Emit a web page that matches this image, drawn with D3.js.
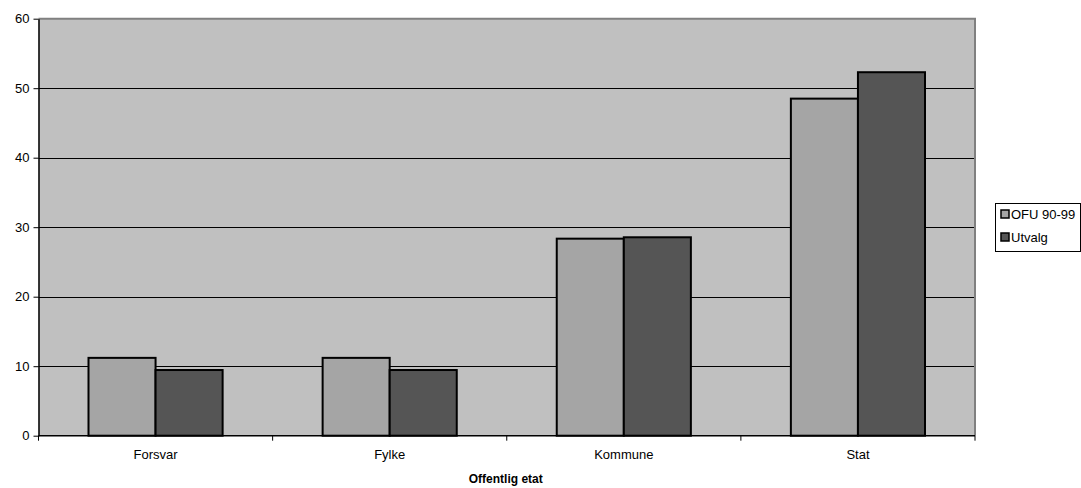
<!DOCTYPE html>
<html><head><meta charset="utf-8">
<script src="https://cdn.jsdelivr.net/npm/d3@7"></script>
<style>body{margin:0;background:#fff;} svg{display:block;font-family:"Liberation Sans",Arial,sans-serif;}</style>
</head><body>
<svg id="c" width="1081" height="488"></svg>
<script>
const categories = ["Forsvar","Fylke","Kommune","Stat"];
const seriesNames = ["OFU 90-99","Utvalg"];
const ofu = [11.2, 11.2, 28.35, 48.5];
const utvalg = [9.45, 9.45, 28.55, 52.3];
const yTicks = [0,10,20,30,40,50,60];
const colors = ["#a5a5a5","#555555"];

const svg = d3.select("#c");
const L=38.5, R=975, T=18.7, B=435.7;
const x = d3.scaleBand().domain(categories).range([L,R]).paddingInner(0).paddingOuter(0);
const y = d3.scaleLinear().domain([0,60]).range([B,T]);
const barW = (x.bandwidth()-100)/2;

svg.append("rect").attr("x",L).attr("y",T).attr("width",R-L).attr("height",B-T).attr("fill","#c0c0c0");
svg.append("g").selectAll("line").data(yTicks.filter(d=>d>0&&d<60)).join("line")
  .attr("x1",L).attr("x2",R).attr("y1",d=>Math.round(y(d))+0.5).attr("y2",d=>Math.round(y(d))+0.5)
  .attr("stroke","#000").attr("stroke-width",1);
svg.append("path").attr("d",`M${L},${T} H${R} V${B}`).attr("fill","none").attr("stroke","#808080").attr("stroke-width",2);

const series=[ofu,utvalg];
series.forEach((vals,si)=>{
  svg.append("g").selectAll("rect").data(categories).join("rect")
    .attr("x",(d,i)=>x(d)+50+si*barW)
    .attr("y",(d,i)=>y(vals[i]))
    .attr("width",barW)
    .attr("height",(d,i)=>B-y(vals[i]))
    .attr("fill",colors[si]).attr("stroke","#000").attr("stroke-width",2);
});

const ya = svg.append("g").attr("transform",`translate(${L},0)`)
  .call(d3.axisLeft(y).tickValues(yTicks).tickSize(5).tickSizeOuter(0));
ya.select(".domain").attr("stroke","#000").attr("stroke-width",1.5);
ya.selectAll("text").attr("font-size","13px").attr("fill","#000").attr("font-family","Liberation Sans, Arial, sans-serif").attr("dx","-1");
ya.selectAll(".tick line").attr("stroke","#000");

const xa = svg.append("g").attr("transform",`translate(0,${B})`);
xa.append("line").attr("x1",L).attr("x2",R).attr("y1",0).attr("y2",0).attr("stroke","#000").attr("stroke-width",1.5);
const bounds = categories.map(c=>x(c)).concat([R]);
xa.selectAll("line.t").data(bounds).join("line").attr("class","t")
  .attr("x1",d=>d).attr("x2",d=>d).attr("y1",0).attr("y2",5).attr("stroke","#000");
xa.selectAll("text").data(categories).join("text")
  .attr("x",d=>x(d)+x.bandwidth()/2).attr("y",23).attr("text-anchor","middle")
  .attr("font-size","13px").attr("fill","#000").text(d=>d);

svg.append("text").attr("x",(L+R)/2-1).attr("y",483).attr("text-anchor","middle")
  .attr("font-size","12px").attr("font-weight","bold").attr("fill","#000").text("Offentlig etat");

const lg = svg.append("g");
lg.append("rect").attr("x",995.5).attr("y",203.5).attr("width",85).attr("height",48).attr("fill","#fff").attr("stroke","#000").attr("stroke-width",1);
seriesNames.forEach((n,i)=>{
  const yy = 214+i*23;
  lg.append("rect").attr("x",1001).attr("y",yy-4).attr("width",8).attr("height",8).attr("fill",colors[i]).attr("stroke","#000").attr("stroke-width",1.5);
  lg.append("text").attr("x",1011).attr("y",yy+5).attr("font-size","13px").attr("fill","#000").text(n);
});
</script>
</body></html>
